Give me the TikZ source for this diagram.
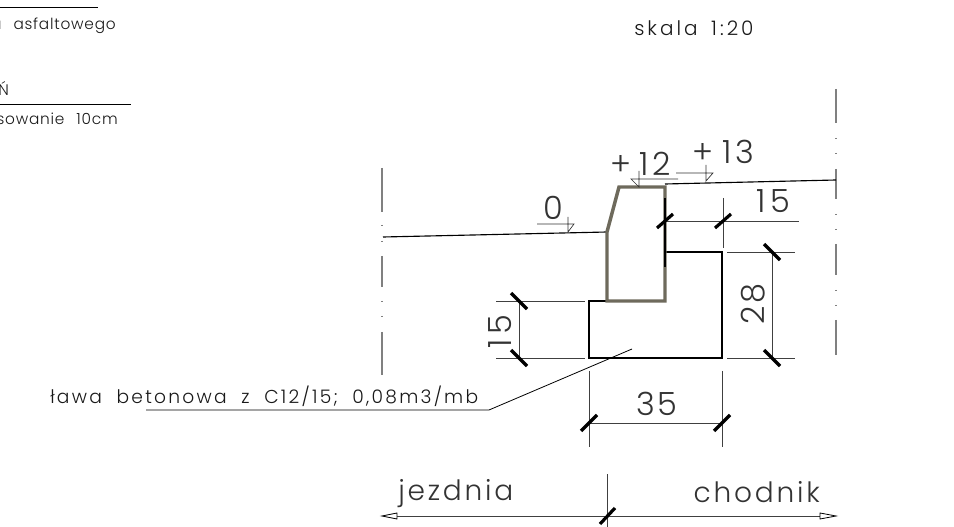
\documentclass[tikz,border=0pt]{standalone}
\usepackage{fontspec}
\setmainfont{Poppins}[UprightFont=*-Light,WordSpace=2]
\newfontfamily\fsm{Poppins}[UprightFont=*-Light,LetterSpace=12,WordSpace=2]
\newfontfamily\fxs{Poppins}[UprightFont=*-Light,LetterSpace=5,WordSpace=2.4]
\newfontfamily\fsk{Poppins}[UprightFont=*-Light,LetterSpace=15,WordSpace=1.6]
\newfontfamily\fbig{Poppins}[UprightFont=*-Light,LetterSpace=14]
\newfontfamily\fnum{Poppins}[UprightFont=*-Light,LetterSpace=8]
\newfontfamily\fmid{Poppins}[UprightFont=*-Light,LetterSpace=10]
\begin{document}
\begin{tikzpicture}[x=0.75pt,y=-0.75pt,
  thinl/.style={line width=0.6pt,draw=black!75},
  blk/.style={line width=0.85pt,draw=black},
  curb/.style={line width=2.6pt,draw=curbc,line join=miter},
  slash/.style={line width=2.4pt,draw=black},
  sm/.style={inner sep=0pt,font=\fsm\fontsize{14}{16}\selectfont,text=black!90},
  xs/.style={inner sep=0pt,font=\fxs\fontsize{11.5}{14}\selectfont,text=black!90},
  sk/.style={inner sep=0pt,font=\fsk\fontsize{15}{17}\selectfont,text=black!90},
  big/.style={inner sep=0pt,font=\fbig\fontsize{24}{26}\selectfont,text=black!80},
  num/.style={inner sep=0pt,font=\fnum\fontsize{24}{26}\selectfont,text=black!80},
  mid/.style={inner sep=0pt,font=\fmid\fontsize{21}{24}\selectfont,text=black!80},
  lvl/.style={line width=0.5pt,draw=black!80},
  open/.style={line width=0.6pt,draw=black,fill=white}]
\definecolor{curbc}{HTML}{6E6A5C}
\useasboundingbox (0,0) rectangle (954,527);
% centre lines
\foreach \a/\b in {168/212,256/287,332/375,225/226,241/242,301/302,316/317}
  \draw[line width=0.9pt,draw=black!50] (382,\a) -- (382,\b);
\foreach \a/\b in {89/123,169/199,244/275,320/355,138/139,153/154,214/215,229/230,290/291,305/306}
  \draw[line width=0.9pt,draw=black!50] (836,\a) -- (836,\b);
% surfaces
\draw[blk] (383,237) -- (607,232);
\draw[blk] (665,184) -- (836,180);
% foundation
\draw[blk,line width=1.4pt] (607,301) -- (589,301) -- (589,358) -- (722,358) -- (722,252) -- (665,252);
% curb
\draw[curb] (607,301) -- (607,232) -- (619,187) -- (665,187) -- (665,301) -- cycle;
\draw[blk] (665,198) -- (665,267);
% dim 15 top
\draw[thinl] (665,221) -- (799,221);
\draw[thinl] (723,198) -- (723,248);
\draw[slash] (657,228) -- (673,214);
\draw[slash] (715,228) -- (731,214);
% dim 28
\draw[thinl] (727,252) -- (795,252);
\draw[thinl] (727,358) -- (795,358);
\draw[thinl] (772,252) -- (772,358);
\draw[slash] (764,244) -- (780,260);
\draw[slash] (764,350) -- (780,366);
% dim 15 left
\draw[thinl] (496,301) -- (585,301);
\draw[thinl] (496,358) -- (585,358);
\draw[thinl] (519,301) -- (519,358);
\draw[slash] (511,293) -- (527,309);
\draw[slash] (511,350) -- (527,366);
% dim 35
\draw[thinl] (589,371) -- (589,447);
\draw[thinl] (722,371) -- (722,447);
\draw[thinl] (589,423) -- (722,423);
\draw[slash] (581,431) -- (597,415);
\draw[slash] (714,431) -- (730,415);
% leader
\draw[line width=0.6pt] (146,410) -- (489,410) -- (632,349);
% bottom dim
\draw[thinl] (397,516) -- (820,516);
\draw[thinl] (607,474) -- (607,527);
\draw[slash] (600,524) -- (615,508);
\draw[open] (382,516) -- (397,513) -- (397,519) -- cycle;
\draw[open] (836,516) -- (820,513) -- (820,519) -- cycle;
% level marks
\draw[lvl] (537,224) -- (574,224) -- (568,232) -- (568,217);
\draw[lvl] (678,179) -- (631,179) -- (639,187) -- (639,171);
\draw[lvl] (676,173) -- (713,173) -- (706,181) -- (706,165);
% top-left
\draw[line width=0.6pt] (0,7) -- (98,7);
\draw[line width=0.6pt] (0,104) -- (131,104);
\node[xs,anchor=base east] (t1) at (116,30) {u asfaltowego};
\node[xs,anchor=base west] (t2) at (-2,96) {Ń};
\node[xs,anchor=base east] (t3) at (118,125) {sowanie 10cm};
\node[sk,anchor=base west] (t4) at (634,36) {skala 1:20};
\node[sm,anchor=base west] (t5) at (50,404) {ława betonowa z C12/15; 0,08m3/mb};
% dimension text
\node[num,anchor=base west] (t6) at (543,220) {0};
\node[big,anchor=base west] (t7) at (610,176) {+\kern6pt1\kern3pt2};
\node[big,anchor=base west] (t8) at (692,164) {+\kern7pt1\kern3pt3};
\node[big,anchor=base west] (t9) at (756,213) {15};
\node[num,anchor=base west] (t10) at (636,416) {35};
\node[num,anchor=base west,rotate=90] (t11) at (764,325) {28};
\node[big,anchor=base west,rotate=90] (t12) at (511,349) {15};
\node[mid,anchor=base west] (t13) at (398,500) {jezdnia};
\node[mid,anchor=base east] (t14) at (820,503) {chodnik};
\end{tikzpicture}
\end{document}
